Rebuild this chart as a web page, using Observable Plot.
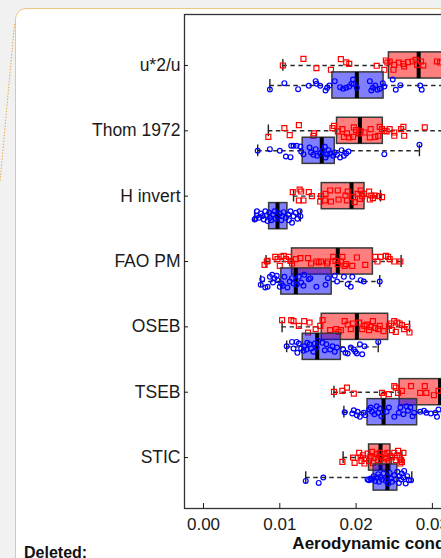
<!DOCTYPE html>
<html><head><meta charset="utf-8">
<script src="https://cdn.jsdelivr.net/npm/d3@7"></script>
<script src="https://cdn.jsdelivr.net/npm/@observablehq/plot@0.6"></script>
<style>
html,body{margin:0;padding:0;}
body{width:441px;height:558px;overflow:hidden;background:#f1f1f1;position:relative;font-family:"Liberation Sans",Arial,sans-serif;}
#card{position:absolute;left:15px;top:7.5px;width:700px;height:700px;background:#fff;border:1.5px solid #efc585;border-radius:11px;box-sizing:border-box;}
#connector{position:absolute;left:0;top:0;}
#chart{position:absolute;left:0;top:0;}
#deleted{position:absolute;left:24px;top:545px;font-weight:bold;font-size:16px;line-height:16px;color:#111;}
</style></head><body>
<div id="card"></div>
<svg id="connector" width="20" height="200"><line x1="14.5" y1="24" x2="0" y2="182" stroke="#e9a84a" stroke-width="1" stroke-dasharray="1.5,1.5"/></svg>
<div id="chart"></div>
<div id="deleted">Deleted:</div>
<script>
const methods = ["u*2/u", "Thom 1972", "H invert", "FAO PM", "OSEB", "TSEB", "STIC"];
const xTicks = [0, 0.01, 0.02, 0.03, 0.04, 0.05, 0.06];
const xLabel = "Aerodynamic conductance (m s\u207B\u00B9)";

// box statistics (red series, per method)
const redLo  = [0.0104, 0.0085, 0.0118, 0.0082, 0.0103, 0.0171, 0.0183];
const redQ1  = [0.0243, 0.0175, 0.0155, 0.0116, 0.0155, 0.0257, 0.0217];
const redMed = [0.0282, 0.0205, 0.0194, 0.0176, 0.0201, 0.0310, 0.0232];
const redQ3  = [0.0345, 0.0235, 0.0211, 0.0222, 0.0242, 0.0345, 0.0245];
const redHi  = [0.0450, 0.0330, 0.0232, 0.0259, 0.0270, 0.0400, 0.0260];
// box statistics (blue series)
const blueLo  = [0.0087, 0.0071, 0.0067, 0.0075, 0.0109, 0.0184, 0.0134];
const blueQ1  = [0.0169, 0.0130, 0.0086, 0.0102, 0.0130, 0.0215, 0.0223];
const blueMed = [0.0201, 0.0155, 0.0097, 0.0121, 0.0149, 0.0236, 0.0241];
const blueQ3  = [0.0236, 0.0172, 0.0110, 0.0168, 0.0180, 0.0280, 0.0254];
const blueHi  = [0.0335, 0.0283, 0.0127, 0.0231, 0.0229, 0.0335, 0.0273];

// individual points (values) and vertical jitter (-1..1) per method
const redU = [0.0104,0.0131,0.0148,0.0167,0.018,0.0187,0.0191,0.0227,0.0237,0.0239,0.0241,0.0244,0.025,0.0249,0.0256,0.0262,0.0263,0.0268,0.0274,0.0278,0.028,0.0285,0.0288,0.0306,0.031,0.0325,0.0338,0.0352,0.0367,0.0384,0.0402,0.0445];
const redUJ = [0,-0.83,0.33,0.54,-0.79,-0.38,-0.2,0.04,0.54,-0.62,-0.37,-0.5,-0.08,0.54,-0.37,-0.2,0.12,-0.42,-0.5,-0.71,-0.08,-0.5,0,-0.5,-0.37,0.3,-0.4,0.5,-0.2,0.1,-0.6,0];
const blueU = [0.0087,0.0106,0.0124,0.0138,0.0147,0.0148,0.0153,0.016,0.0162,0.0165,0.0172,0.0179,0.0183,0.0187,0.0191,0.0194,0.0196,0.0197,0.0201,0.0218,0.022,0.0222,0.0225,0.0228,0.0231,0.0235,0.0237,0.0248,0.0252,0.0258,0.0284,0.0286,0.0318,0.0333];
const blueUJ = [0.5,-0.29,0.46,0.04,-0.54,-0.21,0.04,0.62,0.29,0,-0.54,0.21,0.42,0.29,0.12,-0.21,-0.75,-0.21,0.29,-0.54,0.62,0.29,0,0.54,0.42,-0.29,0.12,-0.75,0.54,-0.04,0,0.54,-0.3,0.2];

const redThom = [0.0085,0.0106,0.0113,0.0125,0.0145,0.0144,0.0169,0.0171,0.0176,0.0182,0.0184,0.0188,0.0191,0.0196,0.0197,0.02,0.0204,0.0206,0.0211,0.0218,0.0219,0.0225,0.0229,0.0231,0.0234,0.0237,0.024,0.0244,0.025,0.025,0.0259,0.0262,0.0263,0.029,0.0322,0.033];
const redThomJ = [0.75,-0.33,0.54,-0.71,0.33,0.62,-0.33,-0.62,0.08,-0.21,0.75,0.33,0.83,0.75,-0.42,-0.08,0.33,0.08,0.21,0.83,-0.21,0.75,0.62,-0.5,-0.21,0,0.08,-0.21,0.62,0.21,-0.21,-0.5,0.62,-0.42,0.3,-0.1];
const blueThom = [0.0071,0.0087,0.01,0.0108,0.0114,0.0115,0.0118,0.0122,0.0127,0.0128,0.0131,0.0139,0.0141,0.0144,0.0147,0.0149,0.0153,0.0156,0.0159,0.016,0.0162,0.0164,0.0166,0.017,0.0172,0.0175,0.0179,0.0181,0.0184,0.0187,0.019,0.0237,0.0283];
const blueThomJ = [0,-0.21,0,0.71,0.79,-0.62,-0.62,-0.62,-0.54,0.08,0.42,-0.42,0.21,0.5,-0.21,0.62,0.33,0,-0.5,0.83,0.5,-0.08,0.33,0.62,0.21,0.5,0.83,-0.08,0.62,0.33,0.08,0.42,-0.75];

const redH = [0.0117,0.0126,0.0128,0.0125,0.0131,0.0138,0.0142,0.0153,0.0154,0.016,0.0159,0.0166,0.0167,0.0176,0.0177,0.0186,0.0188,0.0189,0.0196,0.0198,0.0202,0.0206,0.0205,0.0208,0.021,0.0217,0.0218,0.022,0.0222,0.0225,0.0234,0.023];
const redHJ = [-0.5,-0.83,-0.58,0.54,0.54,-0.5,0,0.67,0,-0.29,0.54,-0.71,0.67,-0.71,0.42,-0.08,0.54,-0.58,0.12,0.75,-0.29,-0.71,0.33,0,-0.29,-0.58,0.42,-0.08,0.25,-0.08,0.12,0];
const blueH = [0.0067,0.007,0.007,0.0073,0.0075,0.0077,0.0079,0.0081,0.0083,0.0086,0.0087,0.0089,0.0091,0.0093,0.0094,0.0097,0.01,0.0102,0.0103,0.0105,0.0108,0.0111,0.0112,0.0114,0.0116,0.0118,0.0121,0.0123,0.0126,0.0127,0.0068,0.0084];
const blueHJ = [0.42,-0.62,-0.08,0.21,-0.33,0,0.42,-0.62,-0.08,-0.42,0.21,0.5,-0.21,-0.62,0.33,0,-0.33,0.5,0,-0.5,0.21,-0.21,0.5,-0.62,0.83,0,-0.42,0.33,-0.62,0,0.33,0.62];

const redFao = [0.008,0.0083,0.0084,0.0094,0.0097,0.01,0.0102,0.0105,0.0108,0.0112,0.0114,0.0116,0.0121,0.0127,0.0137,0.0141,0.0148,0.0151,0.0154,0.0162,0.0163,0.017,0.0173,0.0176,0.018,0.0182,0.0185,0.0187,0.0195,0.0201,0.0212,0.0225,0.0228,0.0232,0.0239,0.0242,0.0244,0.025,0.0258];
const redFaoJ = [0.42,0,-0.08,-0.58,-0.29,0.54,-0.58,-0.71,-0.29,-0.58,-0.08,0.25,-0.29,-0.42,-0.42,0.25,0,0.12,0,0.25,0,-0.58,-0.08,0.33,0,-0.58,0.54,0.33,0.54,-0.5,0.42,-0.58,0,-0.58,-0.71,-0.58,-0.29,0,0];
const blueFao = [0.0075,0.0077,0.0081,0.0084,0.0087,0.009,0.0091,0.0093,0.0096,0.0097,0.01,0.0102,0.0104,0.0106,0.011,0.0113,0.0116,0.0118,0.0122,0.0125,0.0128,0.0131,0.0132,0.0138,0.014,0.0148,0.016,0.0163,0.0172,0.0175,0.0184,0.0189,0.0193,0.0195,0.0206,0.021,0.0231];
const blueFaoJ = [0.42,-0.29,0.75,0.67,-0.58,-0.83,0.12,-0.42,-0.71,-0.17,0.67,0.25,0.54,-0.58,0.75,0,-0.42,0.25,0.42,-0.58,0.12,0.54,-0.83,-0.29,-0.42,0.67,0.42,-0.42,-0.71,0,-0.58,0.33,0.67,-0.58,-0.17,0,0];

const redOseb = [0.0103,0.0115,0.0118,0.0125,0.0132,0.0139,0.0137,0.0147,0.0153,0.0156,0.0166,0.0174,0.0177,0.018,0.0185,0.0189,0.0193,0.0196,0.0204,0.0208,0.0211,0.0214,0.0217,0.0219,0.0222,0.0225,0.0229,0.0231,0.0236,0.0243,0.0246,0.0247,0.025,0.0252,0.0254,0.0257,0.026,0.0263,0.0267,0.027];
const redOsebJ = [-0.83,-0.83,-0.71,-0.12,-0.71,-0.54,0.71,0.29,-0.12,-0.83,0.42,0.29,0.62,0.42,-0.71,-0.29,0.29,-0.42,-0.54,0.29,-0.12,-0.29,0.42,0,-0.71,0.12,0.29,-0.12,0.54,-0.12,-0.42,0.42,-0.71,0.62,-0.54,-0.42,-0.21,0.29,0,0.71];
const blueOseb = [0.0109,0.0116,0.0118,0.0122,0.0123,0.0125,0.0128,0.0131,0.0132,0.0135,0.0136,0.0139,0.0141,0.0144,0.0146,0.0148,0.015,0.0156,0.0159,0.0161,0.0166,0.0169,0.0172,0.0175,0.0183,0.0186,0.0189,0.0193,0.0197,0.0199,0.0201,0.0205,0.0208,0.0211,0.0229];
const blueOsebJ = [-0.08,-0.62,0.21,-0.62,0.75,-0.42,0.21,0.5,-0.08,0.33,-0.5,-0.33,0.21,0.62,-0.42,0.08,-0.75,-0.5,0.42,-0.33,0.33,-0.08,0.62,0.08,0.33,0.75,0.83,0.08,0.33,0.62,0.83,-0.33,0.92,-0.08,-0.62];

const redTseb = [0.0171,0.0182,0.0188,0.0197,0.0234,0.0236,0.0243,0.025,0.0252,0.0255,0.026,0.0272,0.0284,0.029,0.0292,0.0302,0.0308,0.0316,0.032,0.0325,0.033,0.0335,0.034,0.0345,0.035,0.036,0.037,0.038,0.0395];
const redTsebJ = [-0.04,-0.17,-0.58,0.17,0.08,0.5,0.25,-0.75,-0.58,0.08,-0.17,-0.75,0.08,-0.75,0.08,0.38,-0.17,-0.4,0.3,-0.6,0.5,0.1,-0.2,0.6,-0.5,0.2,-0.3,0.4,0];
const blueTseb = [0.0185,0.0195,0.0197,0.0201,0.0202,0.0205,0.021,0.0212,0.0217,0.0219,0.0221,0.0224,0.0227,0.0229,0.0231,0.0233,0.024,0.0243,0.025,0.0256,0.0258,0.0262,0.0266,0.0268,0.0271,0.0274,0.0276,0.0284,0.0289,0.0292,0.0298,0.0304,0.0306,0.0308,0.0315,0.032,0.0333];
const blueTsebJ = [0,0.17,-0.25,0.38,-0.04,0.58,0.08,0.38,-0.33,-0.58,-0.04,0.25,-0.75,0.08,-0.46,0.5,-0.04,-0.58,0.58,0.08,-0.58,0.25,-0.75,-0.17,-0.58,0.5,0.08,-0.04,-0.17,0.08,0.17,0.08,0.58,-0.33,0.2,-0.3,0.1];

const redStic = [0.0182,0.0196,0.0198,0.0204,0.0206,0.0207,0.0209,0.0211,0.0212,0.0215,0.0217,0.0219,0.0221,0.0222,0.0224,0.0227,0.0229,0.0231,0.0233,0.0236,0.0237,0.0239,0.0241,0.0243,0.0245,0.0247,0.025,0.0252,0.0254,0.0255,0.0257,0.0258,0.026,0.0262,0.0259];
const redSticJ = [0.54,0,0.67,-0.58,0,0.42,-0.29,0.75,0.12,-0.5,0.42,-0.17,-0.71,0.67,0,-0.42,0.33,-0.58,-0.08,0.54,-0.42,0.12,-0.58,0.42,-0.17,0,-0.58,0.33,-0.29,-0.83,0,0.75,0.54,-0.58,0.33];
const blueStic = [0.0134,0.0151,0.0157,0.0215,0.0217,0.0219,0.0221,0.0223,0.0225,0.0227,0.0229,0.023,0.0232,0.0234,0.0236,0.0239,0.0241,0.0242,0.0244,0.0246,0.0247,0.025,0.0252,0.0254,0.0256,0.0257,0.0259,0.026,0.0262,0.0263,0.0265,0.0267,0.0269,0.0272];
const blueSticJ = [0.42,0.67,0,0.25,0.33,0.12,0.25,-0.17,0.42,0,-0.42,0.54,-0.08,0.25,-0.5,0.42,-0.17,0.75,-0.58,0.12,0.54,-0.29,0.25,-0.71,0.67,-0.17,0.25,-0.5,0,-0.83,0.75,-0.17,0.33,0.33];

// ---- build tables ----
const BLUE_OFF = 0.306, HALF = 0.2, CAP = 0.09, JIT = 0.1225;
const redVals = [redU, redThom, redH, redFao, redOseb, redTseb, redStic];
const redJits = [redUJ, redThomJ, redHJ, redFaoJ, redOsebJ, redTsebJ, redSticJ];
const blueVals = [blueU, blueThom, blueH, blueFao, blueOseb, blueTseb, blueStic];
const blueJits = [blueUJ, blueThomJ, blueHJ, blueFaoJ, blueOsebJ, blueTsebJ, blueSticJ];

function boxes(lo, q1, med, q3, hi, off) {
  return methods.map((m, i) => ({m, y: i + off, lo: lo[i], q1: q1[i], med: med[i], q3: q3[i], hi: hi[i]}));
}
function points(vals, jits, off) {
  const out = [];
  vals.forEach((arr, i) => arr.forEach((v, k) => out.push({x: v, y: i + off + (jits[i][k] || 0) * JIT})));
  return out;
}
const redBoxes = boxes(redLo, redQ1, redMed, redQ3, redHi, 0);
const blueBoxes = boxes(blueLo, blueQ1, blueMed, blueQ3, blueHi, BLUE_OFF);
const redPts = points(redVals, redJits, 0);
const bluePts = points(blueVals, blueJits, BLUE_OFF);

function series(bx, pts, fill, color, symbol, r) {
  return [
    Plot.ruleY(bx, {x1: "lo", x2: "q1", y: "y", stroke: "#2a2a2a", strokeWidth: 1.4, strokeDasharray: "4.5,3.5"}),
    Plot.ruleY(bx, {x1: "q3", x2: "hi", y: "y", stroke: "#2a2a2a", strokeWidth: 1.4, strokeDasharray: "4.5,3.5"}),
    Plot.ruleX(bx, {x: "lo", y1: d => d.y - CAP, y2: d => d.y + CAP, stroke: "#222", strokeWidth: 1.4}),
    Plot.ruleX(bx, {x: "hi", y1: d => d.y - CAP, y2: d => d.y + CAP, stroke: "#222", strokeWidth: 1.4}),
    Plot.rect(bx, {x1: "q1", x2: "q3", y1: d => d.y - HALF, y2: d => d.y + HALF, fill, fillOpacity: 0.5, stroke: "#3a3a3a", strokeWidth: 1.5}),
    Plot.ruleX(bx, {x: "med", y1: d => d.y - HALF, y2: d => d.y + HALF, stroke: "#000", strokeWidth: 4}),
    Plot.dot(pts, {x: "x", y: "y", symbol, r, stroke: color, fill: "none", strokeWidth: 1.2})
  ];
}

const chart = Plot.plot({
  width: 700,
  height: 558,
  marginLeft: 184,
  marginRight: 26,
  marginTop: 14,
  marginBottom: 50,
  style: {background: "transparent", maxWidth: "none", overflow: "visible", fontFamily: "'Liberation Sans', Arial, sans-serif", fontSize: "17px", color: "#1a1a1a"},
  x: {domain: [-0.00249, 0.06173]},
  y: {domain: [-0.78, 6.78], reverse: true},
  marks: [
    ...series(redBoxes, redPts, "#ff0000", "#ff0000", "square", 2.8),
    ...series(blueBoxes, bluePts, "#0000ff", "#0000ff", "circle", 2.4),
    Plot.frame({stroke: "#333", strokeWidth: 1.3}),
    Plot.axisY({ticks: d3.range(methods.length), tickFormat: i => methods[i], tickSize: -4, tickPadding: 8, label: null, fontSize: 17.5}),
    Plot.axisX({ticks: xTicks, tickFormat: d3.format(".2f"), tickSize: -5, tickPadding: 14, label: null, fontSize: 17}),
    Plot.text([xLabel], {text: d => d, frameAnchor: "bottom", dy: 40, fontWeight: "bold", fontSize: 17, fill: "#111"})
  ]
});
document.getElementById("chart").appendChild(chart);
</script>
</body></html>
